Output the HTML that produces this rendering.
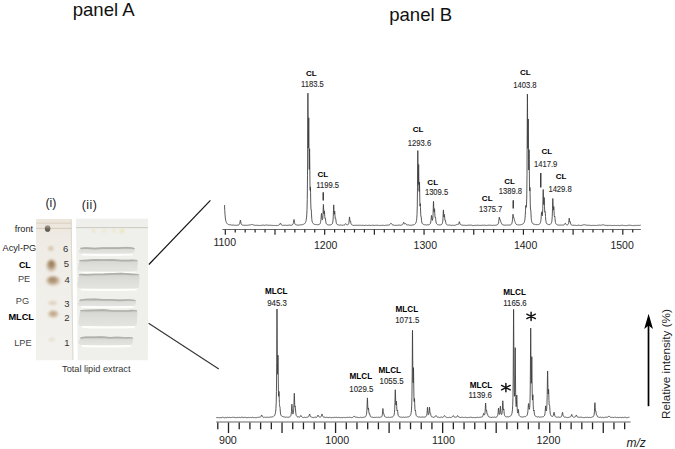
<!DOCTYPE html><html><head><meta charset="utf-8"><style>html,body{margin:0;padding:0;background:#fff;}svg{display:block;}</style></head><body><svg width="675" height="449" viewBox="0 0 675 449"><defs><filter id="b1" x="-50%" y="-50%" width="200%" height="200%"><feGaussianBlur stdDeviation="1.6"/></filter><filter id="b2" x="-50%" y="-50%" width="200%" height="200%"><feGaussianBlur stdDeviation="1.1"/></filter><filter id="b3" x="-20%" y="-50%" width="140%" height="200%"><feGaussianBlur stdDeviation="0.5"/></filter></defs><rect width="675" height="449" fill="#fff"/><g font-family="Liberation Sans, sans-serif" fill="#111"><text x="103.7" y="15.7" font-size="18.6" text-anchor="middle">panel A</text><text x="420.7" y="20.7" font-size="18.6" text-anchor="middle">panel B</text></g><defs><linearGradient id="p1" x1="0" y1="0" x2="0" y2="1"><stop offset="0" stop-color="#ebe5da"/><stop offset="0.12" stop-color="#efebe4"/><stop offset="0.5" stop-color="#f1efea"/><stop offset="1" stop-color="#f2f1ed"/></linearGradient><radialGradient id="s5" cx="0.5" cy="0.5" r="0.5" fx="0.5" fy="0.28"><stop offset="0" stop-color="#947657"/><stop offset="0.5" stop-color="#ae9373"/><stop offset="1" stop-color="#dccfbd" stop-opacity="0.35"/></radialGradient><radialGradient id="s4" cx="0.5" cy="0.5" r="0.5" fx="0.45" fy="0.35"><stop offset="0" stop-color="#a08465"/><stop offset="0.55" stop-color="#bba284"/><stop offset="1" stop-color="#ddd1c0" stop-opacity="0.35"/></radialGradient><radialGradient id="s2" cx="0.5" cy="0.5" r="0.5" fx="0.5" fy="0.35"><stop offset="0" stop-color="#bba385"/><stop offset="0.6" stop-color="#cdb99e"/><stop offset="1" stop-color="#e4dacb" stop-opacity="0.3"/></radialGradient><linearGradient id="bd" x1="0" y1="0" x2="0" y2="1"><stop offset="0" stop-color="#cbcbc6"/><stop offset="0.25" stop-color="#d8d8d4"/><stop offset="0.6" stop-color="#dfdfdb"/><stop offset="1" stop-color="#e3e3df"/></linearGradient></defs><polygon points="36.1,219 71.6,219 73.4,360.3 36,360.3" fill="url(#p1)"/><rect x="36.3" y="222.4" width="35.2" height="1.6" fill="#e2d8c9" filter="url(#b3)"/><line x1="71.2" y1="219.5" x2="72.9" y2="360" stroke="#dcd6cc" stroke-width="1"/><line x1="36.1" y1="228.4" x2="71.7" y2="228.4" stroke="#cfc5b7" stroke-width="0.9"/><g filter="url(#b2)"><ellipse cx="50.8" cy="248.4" rx="2.8" ry="2.3" fill="#d9cab3"/><ellipse cx="51.4" cy="265.8" rx="5.8" ry="7" fill="url(#s5)"/><ellipse cx="53.1" cy="280.8" rx="7.8" ry="5.6" fill="url(#s4)"/><ellipse cx="52.6" cy="303" rx="4.2" ry="2.2" fill="#e2d6c4"/><ellipse cx="53.2" cy="314.2" rx="6" ry="4.4" fill="url(#s2)"/><ellipse cx="51.7" cy="339.6" rx="3.2" ry="2" fill="#e9e2d6"/></g><defs><linearGradient id="fs" x1="0" y1="0" x2="0" y2="1"><stop offset="0" stop-color="#c2b8a8"/><stop offset="0.45" stop-color="#7a7164"/><stop offset="1" stop-color="#554e44"/></linearGradient></defs><ellipse cx="47.6" cy="228.4" rx="2.8" ry="3.4" fill="url(#fs)" filter="url(#b3)"/><polygon points="75.9,218.8 148,218.8 147.9,360.2 77.8,360.2" fill="#efefeb"/><line x1="76" y1="227.6" x2="148" y2="227.6" stroke="#c6c6c0" stroke-width="0.9"/><g filter="url(#b2)" fill="#e9e0a8" opacity="0.8"><circle cx="93.5" cy="230.8" r="1.5"/><circle cx="104" cy="230.8" r="1.4"/><circle cx="114" cy="230.8" r="1.4"/><circle cx="122" cy="231" r="2.1"/></g><path d="M81.5,253.29999999999998 Q106.75,254.79999999999998 133,253.29999999999998 L132,255.4 Q106.75,256.6 82.5,255.4 Z" fill="#fdfdfb" filter="url(#b3)"/><path d="M80.0,250.2 Q80.0,247.2 86.57,247.27 L94.64,247.71 L102.71,247.16 L110.79,247.21 L118.86,247.30 L126.93,246.82 Q135,247.2 135,250.2 L134.5,250.6 Q134.5,253.6 131.5,253.6 L81.5,253.6 Q78.5,253.6 78.5,250.6 Z" fill="url(#bd)" filter="url(#b3)"/><path d="M80.5,248.79999999999998 Q81.0,248.0 86.57,248.17 L94.64,248.61 L102.71,248.06 L110.79,248.11 L118.86,248.20 L126.93,247.72 Q134,248.0 134.2,249.0" stroke="#b1b1ac" stroke-width="1.7" fill="none" filter="url(#b3)"/><path d="M80.6,271.09999999999997 Q107.75,272.59999999999997 135.9,271.09999999999997 L134.9,273.2 Q107.75,274.4 81.6,273.2 Z" fill="#fdfdfb" filter="url(#b3)"/><path d="M79.1,262.4 Q79.1,259.4 86.21,259.75 L94.83,258.91 L103.44,259.16 L112.06,258.91 L120.67,259.77 L129.29,259.63 Q137.9,259.4 137.9,262.4 L137.4,268.4 Q137.4,271.4 134.4,271.4 L80.6,271.4 Q77.6,271.4 77.6,268.4 Z" fill="url(#bd)" filter="url(#b3)"/><path d="M79.6,261.0 Q80.1,260.2 86.21,260.65 L94.83,259.81 L103.44,260.06 L112.06,259.81 L120.67,260.67 L129.29,260.53 Q136.9,260.2 137.1,261.2" stroke="#b1b1ac" stroke-width="1.7" fill="none" filter="url(#b3)"/><path d="M80.2,288.3 Q108.4,289.8 137.6,288.3 L136.6,290.40000000000003 Q108.4,291.6 81.2,290.40000000000003 Z" fill="#fdfdfb" filter="url(#b3)"/><path d="M78.7,276.4 Q78.7,273.4 86.11,273.96 L95.03,273.58 L103.94,273.54 L112.86,272.99 L121.77,272.82 L130.69,273.43 Q139.6,273.4 139.6,276.4 L139.1,285.6 Q139.1,288.6 136.1,288.6 L80.2,288.6 Q77.2,288.6 77.2,285.6 Z" fill="url(#bd)" filter="url(#b3)"/><path d="M79.2,275.0 Q79.7,274.2 86.11,274.86 L95.03,274.48 L103.94,274.44 L112.86,273.89 L121.77,273.72 L130.69,274.33 Q138.6,274.2 138.79999999999998,275.2" stroke="#b1b1ac" stroke-width="1.7" fill="none" filter="url(#b3)"/><path d="M80.6,305.59999999999997 Q106.89999999999999,307.09999999999997 134.2,305.59999999999997 L133.2,307.7 Q106.89999999999999,308.9 81.6,307.7 Z" fill="#fdfdfb" filter="url(#b3)"/><path d="M79.1,302.1 Q79.1,299.1 85.97,298.79 L94.34,298.54 L102.71,299.06 L111.09,299.03 L119.46,299.51 L127.83,299.12 Q136.2,299.1 136.2,302.1 L135.7,302.9 Q135.7,305.9 132.7,305.9 L80.6,305.9 Q77.6,305.9 77.6,302.9 Z" fill="url(#bd)" filter="url(#b3)"/><path d="M79.6,300.70000000000005 Q80.1,299.90000000000003 85.97,299.69 L94.34,299.44 L102.71,299.96 L111.09,299.93 L119.46,300.41 L127.83,300.02 Q135.2,299.90000000000003 135.39999999999998,300.90000000000003" stroke="#b1b1ac" stroke-width="1.7" fill="none" filter="url(#b3)"/><path d="M81.5,325.8 Q107.95,327.3 135.4,325.8 L134.4,327.90000000000003 Q107.95,329.1 82.5,327.90000000000003 Z" fill="#fdfdfb" filter="url(#b3)"/><path d="M80.0,312.5 Q80.0,309.5 86.91,309.69 L95.33,309.45 L103.74,309.23 L112.16,310.10 L120.57,310.09 L128.99,309.91 Q137.4,309.5 137.4,312.5 L136.9,323.1 Q136.9,326.1 133.9,326.1 L81.5,326.1 Q78.5,326.1 78.5,323.1 Z" fill="url(#bd)" filter="url(#b3)"/><path d="M80.5,311.1 Q81.0,310.3 86.91,310.59 L95.33,310.35 L103.74,310.13 L112.16,311.00 L120.57,310.99 L128.99,310.81 Q136.4,310.3 136.6,311.3" stroke="#b1b1ac" stroke-width="1.7" fill="none" filter="url(#b3)"/><path d="M81.3,344.8 Q105.80000000000001,346.3 131.3,344.8 L130.3,346.90000000000003 Q105.80000000000001,348.1 82.3,346.90000000000003 Z" fill="#fdfdfb" filter="url(#b3)"/><path d="M79.8,339.7 Q79.8,336.7 86.16,336.38 L94.01,336.45 L101.87,336.18 L109.73,337.02 L117.59,336.58 L125.44,337.12 Q133.3,336.7 133.3,339.7 L132.8,342.1 Q132.8,345.1 129.8,345.1 L81.3,345.1 Q78.3,345.1 78.3,342.1 Z" fill="url(#bd)" filter="url(#b3)"/><path d="M80.3,338.3 Q80.8,337.5 86.16,337.28 L94.01,337.35 L101.87,337.08 L109.73,337.92 L117.59,337.48 L125.44,338.02 Q132.3,337.5 132.5,338.5" stroke="#b1b1ac" stroke-width="1.7" fill="none" filter="url(#b3)"/><g font-family="Liberation Sans, sans-serif" fill="#222" font-size="9.2" text-anchor="middle"><text x="51.0" y="207.4" font-size="12.4" fill="#222">(i)</text><text x="89.6" y="209.0" font-size="12.4" letter-spacing="0.5" fill="#222">(ii)</text><text x="23.9" y="231.8">front</text><text x="19.4" y="251.4">Acyl-PG</text><text x="24.8" y="267.9" font-weight="bold" font-size="8.9" fill="#000">CL</text><text x="24.05" y="281.7" fill="#444">PE</text><text x="22.45" y="304.3" fill="#444">PG</text><text transform="translate(21.2,319.8) scale(0.95,1)" font-weight="bold" font-size="9.7" fill="#000">MLCL</text><text x="22.9" y="346.2" fill="#444">LPE</text><text x="65.6" y="251.7" font-size="9.5" fill="#333">6</text><text x="66.3" y="266.8" font-size="9.5" fill="#333">5</text><text x="67.2" y="282.8" font-size="9.5" fill="#333">4</text><text x="67" y="306.7" font-size="9.5" fill="#333">3</text><text x="67" y="320.5" font-size="9.5" fill="#333">2</text><text x="67" y="346.1" font-size="9.5" fill="#333">1</text><text x="96.3" y="372" font-size="9.2" fill="#333">Total lipid extract</text></g><line x1="148.9" y1="264.5" x2="210.4" y2="200.3" stroke="#111" stroke-width="1.2"/><line x1="148.6" y1="323.3" x2="218.8" y2="369" stroke="#333" stroke-width="1.1"/><path d="M224.500,205.11 L224.750,210.38 L225.000,214.37 L225.250,217.18 L225.500,219.14 L225.750,220.51 L226.000,221.50 L226.250,222.22 L226.500,222.75 L226.750,223.16 L227.000,223.49 L227.250,223.75 L227.500,224.00 L227.750,224.18 L228.000,224.32 L228.250,224.44 L228.500,224.55 L228.750,224.64 L229.000,224.71 L229.250,224.78 L229.500,224.66 L229.750,224.70 L230.000,224.74 L230.250,224.77 L230.500,224.78 L230.750,224.81 L231.000,224.83 L231.250,224.85 L231.500,225.18 L231.750,225.20 L232.000,225.22 L232.250,225.23 L232.500,225.02 L232.750,225.03 L233.000,225.04 L233.250,225.05 L233.500,225.05 L233.750,225.06 L234.000,225.07 L234.250,225.07 L234.500,225.39 L234.750,225.39 L235.000,225.40 L235.250,225.40 L235.500,225.18 L235.750,225.18 L236.000,225.18 L236.250,225.18 L236.500,225.32 L236.750,225.31 L237.000,225.30 L237.250,225.28 L237.500,225.12 L237.750,225.10 L238.000,225.06 L238.250,225.01 L238.500,225.00 L238.750,224.90 L239.000,224.75 L239.250,224.51 L239.500,224.00 L239.750,223.31 L240.000,222.09 L240.250,220.50 L240.280,220.35 L240.400,220.07 L240.500,220.31 L240.520,220.40 L240.750,221.83 L241.000,223.20 L241.250,224.00 L241.500,224.51 L241.750,224.79 L242.000,224.97 L242.250,225.09 L242.500,225.04 L242.750,225.10 L243.000,225.14 L243.250,225.17 L243.500,225.28 L243.750,225.30 L244.000,225.31 L244.250,225.33 L244.500,225.31 L244.750,225.31 L245.000,225.32 L245.250,225.32 L245.500,225.06 L245.750,225.06 L246.000,225.06 L246.250,225.06 L246.500,225.36 L246.750,225.36 L247.000,225.36 L247.250,225.35 L247.500,225.27 L247.750,225.26 L248.000,225.25 L248.250,225.24 L248.500,225.11 L248.750,225.09 L249.000,225.07 L249.250,225.04 L249.500,224.91 L249.750,224.88 L250.000,224.83 L250.250,224.78 L250.500,224.99 L250.750,224.90 L251.000,224.80 L251.250,224.69 L251.500,224.49 L251.750,224.42 L251.880,224.40 L252.000,224.39 L252.120,224.40 L252.250,224.42 L252.500,224.55 L252.750,224.65 L253.000,224.76 L253.250,224.86 L253.500,225.00 L253.750,225.08 L254.000,225.15 L254.250,225.20 L254.500,225.19 L254.750,225.22 L255.000,225.25 L255.250,225.28 L255.500,225.38 L255.750,225.40 L256.000,225.42 L256.250,225.43 L256.500,225.21 L256.750,225.22 L257.000,225.23 L257.250,225.24 L257.500,225.43 L257.750,225.43 L258.000,225.44 L258.250,225.44 L258.500,225.28 L258.750,225.28 L259.000,225.29 L259.250,225.29 L259.500,225.52 L259.750,225.52 L260.000,225.52 L260.250,225.52 L260.500,225.50 L260.750,225.50 L261.000,225.50 L261.250,225.50 L261.500,225.13 L261.750,225.13 L262.000,225.13 L262.250,225.13 L262.500,225.14 L262.750,225.14 L263.000,225.13 L263.250,225.13 L263.500,225.16 L263.750,225.15 L264.000,225.13 L264.250,225.12 L264.500,225.41 L264.750,225.36 L265.000,225.31 L265.250,225.24 L265.500,224.97 L265.750,224.90 L265.880,224.88 L266.000,224.88 L266.120,224.88 L266.250,224.90 L266.500,225.03 L266.750,225.11 L267.000,225.18 L267.250,225.23 L267.500,225.13 L267.750,225.15 L268.000,225.17 L268.250,225.19 L268.500,225.29 L268.750,225.30 L269.000,225.31 L269.250,225.31 L269.500,225.26 L269.750,225.27 L270.000,225.27 L270.250,225.27 L270.500,225.26 L270.750,225.26 L271.000,225.26 L271.250,225.26 L271.500,225.37 L271.750,225.37 L272.000,225.37 L272.250,225.37 L272.500,225.37 L272.750,225.37 L273.000,225.37 L273.250,225.37 L273.500,225.52 L273.750,225.52 L274.000,225.52 L274.250,225.51 L274.500,225.41 L274.750,225.41 L275.000,225.40 L275.250,225.40 L275.500,225.51 L275.750,225.51 L276.000,225.50 L276.250,225.50 L276.500,225.46 L276.750,225.45 L277.000,225.44 L277.250,225.42 L277.500,225.47 L277.750,225.45 L278.000,225.42 L278.250,225.38 L278.500,225.21 L278.750,225.15 L279.000,225.06 L279.250,224.92 L279.500,224.56 L279.750,224.23 L280.000,223.72 L280.250,223.18 L280.280,223.13 L280.400,223.05 L280.500,223.21 L280.520,223.24 L280.750,223.73 L281.000,224.30 L281.250,224.69 L281.500,224.97 L281.750,225.13 L282.000,225.23 L282.250,225.30 L282.500,225.32 L282.750,225.36 L283.000,225.38 L283.250,225.40 L283.500,225.27 L283.750,225.28 L284.000,225.29 L284.250,225.30 L284.500,225.37 L284.750,225.37 L285.000,225.37 L285.250,225.37 L285.500,225.15 L285.750,225.15 L286.000,225.15 L286.250,225.15 L286.500,225.43 L286.750,225.42 L287.000,225.42 L287.250,225.42 L287.500,225.30 L287.750,225.30 L288.000,225.30 L288.250,225.29 L288.500,225.16 L288.750,225.15 L289.000,225.15 L289.250,225.14 L289.500,225.04 L289.750,225.03 L290.000,225.02 L290.250,225.01 L290.500,225.32 L290.750,225.29 L291.000,225.27 L291.250,225.23 L291.500,225.24 L291.750,225.18 L292.000,225.10 L292.250,224.99 L292.500,224.56 L292.750,224.35 L293.000,224.00 L293.250,223.39 L293.500,222.37 L293.750,220.59 L293.880,219.74 L294.000,219.42 L294.120,219.73 L294.250,220.59 L294.500,222.30 L294.750,223.42 L295.000,224.04 L295.250,224.39 L295.500,224.53 L295.750,224.66 L296.000,224.75 L296.250,224.80 L296.500,224.89 L296.750,224.92 L297.000,224.94 L297.250,224.95 L297.500,225.14 L297.750,225.14 L298.000,225.14 L298.250,225.14 L298.500,225.18 L298.750,225.17 L299.000,225.16 L299.250,225.15 L299.500,224.84 L299.750,224.82 L300.000,224.81 L300.250,224.79 L300.500,224.97 L300.750,224.94 L301.000,224.91 L301.250,224.88 L301.500,224.67 L301.750,224.63 L302.000,224.59 L302.250,224.55 L302.500,224.68 L302.750,224.62 L303.000,224.54 L303.250,224.45 L303.500,224.26 L303.750,224.15 L304.000,224.02 L304.250,223.86 L304.500,223.77 L304.750,223.53 L305.000,223.23 L305.250,222.85 L305.500,222.38 L305.750,221.75 L305.880,221.33 L306.000,220.88 L306.120,220.35 L306.250,219.66 L306.500,217.81 L306.750,214.90 L307.000,209.81 L307.250,199.64 L307.500,175.78 L307.750,120.00 L307.780,112.06 L307.900,93.17 L308.000,102.59 L308.020,106.53 L308.250,148.05 L308.500,145.27 L308.630,127.20 L308.750,117.79 L308.870,130.40 L309.000,152.61 L309.250,169.52 L309.480,154.23 L309.500,152.52 L309.600,148.75 L309.720,158.60 L309.750,162.55 L310.000,187.97 L310.250,190.53 L310.330,188.25 L310.450,186.99 L310.500,188.46 L310.570,192.24 L310.750,203.10 L311.000,209.77 L311.180,209.84 L311.250,209.75 L311.300,210.04 L311.420,212.21 L311.500,214.16 L311.750,218.62 L312.000,220.71 L312.250,221.81 L312.500,222.52 L312.750,222.98 L313.000,223.32 L313.250,223.58 L313.500,223.82 L313.750,223.98 L314.000,224.11 L314.250,224.22 L314.500,224.36 L314.750,224.44 L315.000,224.51 L315.250,224.56 L315.500,224.48 L315.750,224.52 L316.000,224.55 L316.250,224.57 L316.500,224.56 L316.750,224.57 L317.000,224.58 L317.250,224.58 L317.500,224.82 L317.750,224.80 L318.000,224.78 L318.250,224.75 L318.500,224.55 L318.750,224.50 L319.000,224.42 L319.250,224.32 L319.500,224.33 L319.750,224.12 L320.000,223.81 L320.250,223.34 L320.500,222.60 L320.750,221.34 L321.000,219.15 L321.250,215.76 L321.380,214.10 L321.500,213.39 L321.620,213.87 L321.750,215.30 L322.000,218.16 L322.250,219.62 L322.500,219.72 L322.750,218.33 L323.000,214.45 L323.250,207.11 L323.280,206.26 L323.400,204.40 L323.500,205.37 L323.520,205.79 L323.750,211.60 L324.000,213.90 L324.250,211.70 L324.280,211.37 L324.400,210.85 L324.500,211.85 L324.520,212.17 L324.750,216.41 L325.000,218.64 L325.250,218.43 L325.280,218.35 L325.400,218.37 L325.500,218.95 L325.520,219.12 L325.750,221.28 L326.000,222.79 L326.250,223.57 L326.500,224.00 L326.750,224.27 L327.000,224.45 L327.250,224.58 L327.500,224.69 L327.750,224.76 L328.000,224.81 L328.250,224.85 L328.500,224.98 L328.750,225.00 L329.000,225.02 L329.250,225.02 L329.500,224.88 L329.750,224.87 L330.000,224.85 L330.250,224.83 L330.500,224.77 L330.750,224.73 L331.000,224.66 L331.250,224.57 L331.500,224.53 L331.750,224.36 L332.000,224.11 L332.250,223.75 L332.500,223.10 L332.750,222.14 L333.000,220.33 L333.250,216.59 L333.500,209.39 L333.580,206.87 L333.700,204.89 L333.750,205.07 L333.820,206.23 L334.000,210.91 L334.250,214.20 L334.500,212.58 L334.580,211.61 L334.700,211.06 L334.750,211.40 L334.820,212.37 L335.000,215.82 L335.250,218.66 L335.500,218.74 L335.580,218.51 L335.700,218.52 L335.750,218.75 L335.820,219.27 L336.000,221.02 L336.250,222.73 L336.500,223.62 L336.750,224.10 L337.000,224.40 L337.250,224.59 L337.500,224.57 L337.750,224.66 L338.000,224.72 L338.250,224.78 L338.500,224.96 L338.750,225.00 L339.000,225.03 L339.250,225.05 L339.500,225.14 L339.750,225.15 L340.000,225.17 L340.250,225.18 L340.500,224.97 L340.750,224.98 L341.000,224.98 L341.250,224.99 L341.500,225.23 L341.750,225.24 L342.000,225.24 L342.250,225.24 L342.500,225.24 L342.750,225.23 L343.000,225.22 L343.250,225.21 L343.500,224.96 L343.750,224.94 L344.000,224.90 L344.250,224.85 L344.500,224.96 L344.750,224.82 L345.000,224.59 L345.250,224.23 L345.500,223.76 L345.580,223.66 L345.700,223.59 L345.750,223.60 L345.820,223.65 L346.000,223.90 L346.250,224.30 L346.500,224.64 L346.750,224.80 L347.000,224.88 L347.250,224.91 L347.500,224.79 L347.750,224.74 L348.000,224.63 L348.250,224.45 L348.500,224.19 L348.750,223.53 L349.000,222.19 L349.250,219.46 L349.380,217.71 L349.500,216.91 L349.620,217.54 L349.750,219.09 L350.000,221.24 L350.250,221.47 L350.380,221.17 L350.500,221.07 L350.620,221.54 L350.750,222.35 L351.000,223.58 L351.250,224.20 L351.500,224.52 L351.750,224.70 L352.000,224.81 L352.250,224.88 L352.500,225.17 L352.750,225.21 L353.000,225.25 L353.250,225.27 L353.500,225.42 L353.750,225.44 L354.000,225.45 L354.250,225.47 L354.500,225.16 L354.750,225.17 L355.000,225.18 L355.250,225.18 L355.500,225.28 L355.750,225.29 L356.000,225.29 L356.250,225.29 L356.500,225.36 L356.750,225.36 L357.000,225.37 L357.250,225.37 L357.500,225.25 L357.750,225.25 L358.000,225.25 L358.250,225.25 L358.500,225.27 L358.750,225.27 L359.000,225.28 L359.250,225.28 L359.500,225.25 L359.750,225.26 L360.000,225.26 L360.250,225.26 L360.500,225.29 L360.750,225.29 L361.000,225.29 L361.250,225.29 L361.500,225.40 L361.750,225.40 L362.000,225.40 L362.250,225.40 L362.500,225.26 L362.750,225.26 L363.000,225.26 L363.250,225.26 L363.500,225.30 L363.750,225.30 L364.000,225.30 L364.250,225.30 L364.500,225.49 L364.750,225.49 L365.000,225.49 L365.250,225.49 L365.500,225.13 L365.750,225.13 L366.000,225.13 L366.250,225.13 L366.500,225.39 L366.750,225.39 L367.000,225.39 L367.250,225.39 L367.500,225.47 L367.750,225.47 L368.000,225.47 L368.250,225.47 L368.500,225.27 L368.750,225.27 L369.000,225.27 L369.250,225.27 L369.500,225.23 L369.750,225.23 L370.000,225.23 L370.250,225.23 L370.500,225.51 L370.750,225.51 L371.000,225.51 L371.250,225.51 L371.500,225.24 L371.750,225.24 L372.000,225.24 L372.250,225.24 L372.500,225.21 L372.750,225.21 L373.000,225.21 L373.250,225.21 L373.500,225.33 L373.750,225.33 L374.000,225.33 L374.250,225.33 L374.500,225.46 L374.750,225.46 L375.000,225.46 L375.250,225.46 L375.500,225.17 L375.750,225.17 L376.000,225.17 L376.250,225.17 L376.500,225.28 L376.750,225.27 L377.000,225.27 L377.250,225.27 L377.500,225.28 L377.750,225.28 L378.000,225.28 L378.250,225.28 L378.500,225.52 L378.750,225.52 L379.000,225.52 L379.250,225.52 L379.500,225.33 L379.750,225.33 L380.000,225.33 L380.250,225.32 L380.500,225.52 L380.750,225.52 L381.000,225.52 L381.250,225.52 L381.500,225.19 L381.750,225.19 L382.000,225.19 L382.250,225.19 L382.500,225.27 L382.750,225.27 L383.000,225.27 L383.250,225.26 L383.500,225.41 L383.750,225.41 L384.000,225.41 L384.250,225.40 L384.500,225.51 L384.750,225.51 L385.000,225.50 L385.250,225.50 L385.500,225.29 L385.750,225.29 L386.000,225.28 L386.250,225.28 L386.500,225.17 L386.750,225.16 L387.000,225.15 L387.250,225.14 L387.500,225.08 L387.750,225.07 L388.000,225.05 L388.250,225.03 L388.500,225.16 L388.750,225.12 L389.000,225.06 L389.250,224.98 L389.500,224.76 L389.750,224.61 L390.000,224.40 L390.250,224.09 L390.500,223.79 L390.750,223.35 L390.880,223.20 L391.000,223.15 L391.120,223.20 L391.250,223.35 L391.500,223.79 L391.750,224.23 L392.000,224.56 L392.250,224.79 L392.500,224.75 L392.750,224.85 L393.000,224.92 L393.250,224.97 L393.500,225.05 L393.750,225.08 L394.000,225.10 L394.250,225.12 L394.500,225.36 L394.750,225.37 L395.000,225.38 L395.250,225.39 L395.500,225.32 L395.750,225.33 L396.000,225.33 L396.250,225.34 L396.500,225.41 L396.750,225.41 L397.000,225.41 L397.250,225.41 L397.500,225.21 L397.750,225.21 L398.000,225.20 L398.250,225.20 L398.500,225.10 L398.750,225.10 L399.000,225.10 L399.250,225.09 L399.500,225.15 L399.750,225.15 L400.000,225.14 L400.250,225.12 L400.500,225.32 L400.750,225.30 L401.000,225.27 L401.250,225.23 L401.500,224.99 L401.750,224.94 L402.000,224.87 L402.250,224.76 L402.500,224.62 L402.750,224.36 L403.000,223.94 L403.250,223.29 L403.500,222.51 L403.580,222.32 L403.700,222.19 L403.750,222.20 L403.820,222.29 L404.000,222.74 L404.250,223.45 L404.500,223.92 L404.750,224.13 L405.000,224.14 L405.250,223.96 L405.500,223.68 L405.580,223.61 L405.700,223.58 L405.750,223.60 L405.820,223.66 L406.000,223.92 L406.250,224.31 L406.500,224.74 L406.750,224.93 L407.000,225.05 L407.250,225.13 L407.500,224.90 L407.750,224.93 L408.000,224.95 L408.250,224.97 L408.500,224.92 L408.750,224.92 L409.000,224.92 L409.250,224.92 L409.500,225.29 L409.750,225.28 L410.000,225.27 L410.250,225.27 L410.500,225.23 L410.750,225.22 L411.000,225.20 L411.250,225.18 L411.500,225.20 L411.750,225.18 L412.000,225.15 L412.250,225.12 L412.500,224.89 L412.750,224.86 L413.000,224.81 L413.250,224.76 L413.500,224.86 L413.750,224.79 L414.000,224.70 L414.250,224.60 L414.500,224.47 L414.750,224.31 L415.000,224.12 L415.250,223.89 L415.500,223.46 L415.750,223.06 L416.000,222.51 L416.250,221.72 L416.500,220.54 L416.750,218.51 L417.000,214.77 L417.250,206.83 L417.500,187.26 L417.680,161.29 L417.750,153.03 L417.800,150.60 L417.920,158.16 L418.000,168.04 L418.250,184.57 L418.500,172.34 L418.530,169.85 L418.650,164.52 L418.750,169.80 L418.770,171.65 L419.000,190.79 L419.250,191.52 L419.380,185.13 L419.500,182.03 L419.620,187.60 L419.750,197.10 L420.000,206.16 L420.230,204.36 L420.250,204.06 L420.350,203.65 L420.470,206.62 L420.500,207.71 L420.750,214.93 L421.000,216.70 L421.080,216.56 L421.200,216.66 L421.250,217.05 L421.320,217.89 L421.500,220.24 L421.750,222.11 L422.000,223.00 L422.250,223.51 L422.500,223.81 L422.750,224.04 L423.000,224.21 L423.250,224.34 L423.500,224.39 L423.750,224.47 L424.000,224.54 L424.250,224.59 L424.500,224.79 L424.750,224.83 L425.000,224.86 L425.250,224.89 L425.500,224.81 L425.750,224.82 L426.000,224.83 L426.250,224.84 L426.500,225.02 L426.750,225.02 L427.000,225.02 L427.250,225.01 L427.500,224.74 L427.750,224.72 L428.000,224.70 L428.250,224.67 L428.500,224.90 L428.750,224.84 L429.000,224.76 L429.250,224.66 L429.500,224.47 L429.750,224.29 L430.000,224.03 L430.250,223.64 L430.500,223.05 L430.750,222.01 L431.000,220.19 L431.250,217.38 L431.380,216.00 L431.500,215.42 L431.620,215.79 L431.750,216.93 L432.000,219.21 L432.250,220.32 L432.500,220.28 L432.750,219.00 L433.000,215.62 L433.250,208.34 L433.380,203.61 L433.500,201.40 L433.620,202.99 L433.750,206.95 L434.000,212.00 L434.250,211.12 L434.380,209.33 L434.500,208.71 L434.620,210.22 L434.750,213.11 L435.000,217.07 L435.250,217.73 L435.380,217.33 L435.500,217.39 L435.620,218.26 L435.750,219.72 L436.000,221.95 L436.250,223.12 L436.500,223.65 L436.750,224.01 L437.000,224.24 L437.250,224.40 L437.500,224.55 L437.750,224.63 L438.000,224.69 L438.250,224.74 L438.500,224.90 L438.750,224.92 L439.000,224.94 L439.250,224.96 L439.500,224.91 L439.750,224.91 L440.000,224.90 L440.250,224.88 L440.500,224.81 L440.750,224.76 L441.000,224.70 L441.250,224.61 L441.500,224.61 L441.750,224.41 L442.000,224.11 L442.250,223.62 L442.500,222.74 L442.750,221.16 L443.000,217.88 L443.250,212.06 L443.280,211.40 L443.400,209.90 L443.500,210.59 L443.520,210.90 L443.750,215.26 L444.000,216.94 L444.250,215.21 L444.280,214.95 L444.400,214.54 L444.500,215.28 L444.520,215.52 L444.750,218.73 L445.000,220.40 L445.250,220.22 L445.280,220.16 L445.400,220.17 L445.500,220.66 L445.520,220.79 L445.750,222.44 L446.000,223.60 L446.250,224.20 L446.500,224.44 L446.750,224.65 L447.000,224.78 L447.250,224.87 L447.500,225.05 L447.750,225.11 L448.000,225.15 L448.250,225.19 L448.500,225.05 L448.750,225.08 L449.000,225.10 L449.250,225.11 L449.500,225.06 L449.750,225.07 L450.000,225.08 L450.250,225.09 L450.500,225.24 L450.750,225.24 L451.000,225.25 L451.250,225.25 L451.500,225.38 L451.750,225.38 L452.000,225.38 L452.250,225.38 L452.500,225.10 L452.750,225.10 L453.000,225.10 L453.250,225.09 L453.500,225.35 L453.750,225.34 L454.000,225.33 L454.250,225.31 L454.500,225.35 L454.750,225.32 L455.000,225.29 L455.250,225.24 L455.500,225.14 L455.750,225.06 L456.000,224.96 L456.250,224.83 L456.500,224.69 L456.750,224.55 L456.880,224.51 L457.000,224.48 L457.120,224.48 L457.250,224.49 L457.500,224.35 L457.750,224.41 L458.000,224.41 L458.250,224.35 L458.500,224.30 L458.750,223.86 L459.000,223.05 L459.250,221.99 L459.280,221.90 L459.400,221.71 L459.500,221.88 L459.520,221.94 L459.750,222.94 L460.000,223.89 L460.250,224.46 L460.500,224.55 L460.750,224.73 L461.000,224.83 L461.250,224.90 L461.500,225.04 L461.750,225.07 L462.000,225.10 L462.250,225.12 L462.500,225.14 L462.750,225.15 L463.000,225.16 L463.250,225.17 L463.500,225.30 L463.750,225.31 L464.000,225.31 L464.250,225.32 L464.500,225.27 L464.750,225.28 L465.000,225.28 L465.250,225.29 L465.500,225.31 L465.750,225.31 L466.000,225.32 L466.250,225.32 L466.500,225.46 L466.750,225.47 L467.000,225.47 L467.250,225.47 L467.500,225.10 L467.750,225.11 L468.000,225.11 L468.250,225.11 L468.500,225.13 L468.750,225.13 L469.000,225.13 L469.250,225.14 L469.500,225.17 L469.750,225.17 L470.000,225.17 L470.250,225.17 L470.500,225.17 L470.750,225.17 L471.000,225.17 L471.250,225.17 L471.500,225.15 L471.750,225.15 L472.000,225.15 L472.250,225.15 L472.500,225.58 L472.750,225.58 L473.000,225.58 L473.250,225.58 L473.500,225.52 L473.750,225.52 L474.000,225.52 L474.250,225.52 L474.500,225.16 L474.750,225.16 L475.000,225.16 L475.250,225.16 L475.500,225.36 L475.750,225.36 L476.000,225.36 L476.250,225.36 L476.500,225.27 L476.750,225.27 L477.000,225.27 L477.250,225.27 L477.500,225.27 L477.750,225.27 L478.000,225.27 L478.250,225.27 L478.500,225.28 L478.750,225.28 L479.000,225.28 L479.250,225.28 L479.500,225.42 L479.750,225.42 L480.000,225.42 L480.250,225.42 L480.500,225.39 L480.750,225.39 L481.000,225.39 L481.250,225.39 L481.500,225.29 L481.750,225.29 L482.000,225.29 L482.250,225.28 L482.500,225.20 L482.750,225.20 L483.000,225.20 L483.250,225.20 L483.500,225.27 L483.750,225.27 L484.000,225.27 L484.250,225.27 L484.500,225.17 L484.750,225.17 L485.000,225.17 L485.250,225.17 L485.500,225.37 L485.750,225.37 L486.000,225.37 L486.250,225.37 L486.500,225.44 L486.750,225.44 L487.000,225.44 L487.250,225.44 L487.500,225.28 L487.750,225.28 L488.000,225.28 L488.250,225.28 L488.500,225.13 L488.750,225.13 L489.000,225.13 L489.250,225.13 L489.500,225.18 L489.750,225.17 L490.000,225.17 L490.250,225.17 L490.500,225.26 L490.750,225.26 L491.000,225.25 L491.250,225.25 L491.500,225.35 L491.750,225.35 L492.000,225.35 L492.250,225.34 L492.500,225.42 L492.750,225.41 L493.000,225.41 L493.250,225.40 L493.500,225.21 L493.750,225.21 L494.000,225.20 L494.250,225.19 L494.500,225.36 L494.750,225.34 L495.000,225.33 L495.250,225.31 L495.500,225.21 L495.750,225.19 L496.000,225.16 L496.250,225.12 L496.500,225.01 L496.750,224.95 L497.000,224.88 L497.250,224.78 L497.500,224.63 L497.750,224.44 L498.000,224.15 L498.250,223.69 L498.500,222.94 L498.750,221.58 L499.000,219.34 L499.180,217.64 L499.250,217.23 L499.300,217.10 L499.420,217.33 L499.500,217.81 L499.750,219.44 L500.000,219.93 L500.180,219.79 L500.250,219.79 L500.300,219.86 L500.420,220.25 L500.500,220.61 L500.750,221.81 L501.000,222.38 L501.180,222.51 L501.250,222.58 L501.300,222.65 L501.420,222.90 L501.500,223.15 L501.750,223.84 L502.000,224.31 L502.250,224.60 L502.500,224.71 L502.750,224.83 L503.000,224.91 L503.250,224.97 L503.500,224.93 L503.750,224.96 L504.000,224.99 L504.250,225.01 L504.500,225.13 L504.750,225.15 L505.000,225.15 L505.250,225.16 L505.500,225.23 L505.750,225.23 L506.000,225.23 L506.250,225.23 L506.500,224.98 L506.750,224.98 L507.000,224.98 L507.250,224.97 L507.500,225.10 L507.750,225.09 L508.000,225.08 L508.250,225.07 L508.500,225.06 L508.750,225.04 L509.000,225.01 L509.250,224.99 L509.500,225.11 L509.750,225.07 L510.000,225.02 L510.250,224.95 L510.500,224.88 L510.750,224.76 L511.000,224.61 L511.250,224.41 L511.500,223.99 L511.750,223.57 L512.000,222.89 L512.250,221.73 L512.500,219.73 L512.750,216.54 L512.880,214.94 L513.000,214.22 L513.120,214.52 L513.250,215.63 L513.500,217.60 L513.750,217.94 L513.880,217.79 L514.000,217.88 L514.120,218.40 L514.250,219.27 L514.500,220.71 L514.750,221.30 L514.880,221.42 L515.000,221.60 L515.120,221.93 L515.250,222.40 L515.500,223.29 L515.750,223.85 L516.000,224.18 L516.250,224.39 L516.500,224.44 L516.750,224.53 L517.000,224.59 L517.250,224.63 L517.500,224.88 L517.750,224.90 L518.000,224.92 L518.250,224.92 L518.500,224.88 L518.750,224.88 L519.000,224.87 L519.250,224.86 L519.500,224.91 L519.750,224.89 L520.000,224.87 L520.250,224.84 L520.500,224.77 L520.750,224.73 L521.000,224.69 L521.250,224.63 L521.500,224.54 L521.750,224.47 L522.000,224.39 L522.250,224.29 L522.500,224.19 L522.750,224.05 L523.000,223.89 L523.250,223.69 L523.500,223.41 L523.750,223.10 L524.000,222.69 L524.250,222.15 L524.500,221.33 L524.750,220.19 L525.000,218.39 L525.250,215.38 L525.500,210.60 L525.680,206.84 L525.750,205.84 L525.800,205.40 L525.920,205.34 L526.000,205.84 L526.250,207.32 L526.500,205.30 L526.750,196.99 L527.000,174.50 L527.250,120.24 L527.280,112.49 L527.400,94.10 L527.500,103.49 L527.520,107.39 L527.750,148.44 L528.000,145.88 L528.130,128.20 L528.250,118.99 L528.370,131.44 L528.500,153.33 L528.750,170.04 L528.980,155.05 L529.000,153.37 L529.100,149.68 L529.220,159.39 L529.250,163.28 L529.500,188.31 L529.750,190.86 L529.830,188.63 L529.950,187.40 L530.000,188.84 L530.070,192.57 L530.250,203.25 L530.500,209.83 L530.680,209.91 L530.750,209.82 L530.800,210.10 L530.920,212.24 L531.000,214.18 L531.250,218.58 L531.500,220.65 L531.750,221.75 L532.000,222.42 L532.250,222.89 L532.500,223.35 L532.750,223.62 L533.000,223.83 L533.250,224.00 L533.500,223.99 L533.750,224.09 L534.000,224.18 L534.250,224.26 L534.500,224.28 L534.750,224.33 L535.000,224.38 L535.250,224.41 L535.500,224.66 L535.750,224.69 L536.000,224.71 L536.250,224.72 L536.500,224.53 L536.750,224.53 L537.000,224.53 L537.250,224.52 L537.500,224.70 L537.750,224.68 L538.000,224.65 L538.250,224.60 L538.500,224.50 L538.750,224.42 L539.000,224.33 L539.250,224.20 L539.500,224.07 L539.750,223.85 L540.000,223.53 L540.250,223.07 L540.500,222.39 L540.750,221.26 L541.000,219.33 L541.250,216.12 L541.480,212.68 L541.500,212.45 L541.600,211.80 L541.720,212.09 L541.750,212.31 L542.000,214.75 L542.250,215.73 L542.500,214.15 L542.750,208.64 L543.000,196.92 L543.080,192.76 L543.200,189.50 L543.250,189.82 L543.320,191.76 L543.500,199.52 L543.750,204.59 L544.000,200.73 L544.080,198.70 L544.200,197.50 L544.250,198.11 L544.320,199.97 L544.500,206.61 L544.750,212.05 L545.000,212.12 L545.080,211.64 L545.200,211.62 L545.250,212.06 L545.320,213.11 L545.500,216.58 L545.750,220.01 L546.000,221.77 L546.250,222.72 L546.500,223.33 L546.750,223.71 L547.000,223.97 L547.250,224.16 L547.500,224.15 L547.750,224.25 L548.000,224.32 L548.250,224.37 L548.500,224.58 L548.750,224.60 L549.000,224.60 L549.250,224.60 L549.500,224.62 L549.750,224.58 L550.000,224.51 L550.250,224.41 L550.500,224.08 L550.750,223.91 L551.000,223.65 L551.250,223.27 L551.500,222.71 L551.750,221.70 L552.000,219.88 L552.250,216.24 L552.500,208.69 L552.680,201.09 L552.750,199.08 L552.800,198.50 L552.920,200.25 L553.000,202.94 L553.250,209.84 L553.500,210.04 L553.680,207.29 L553.750,206.60 L553.800,206.58 L553.920,208.30 L554.000,210.30 L554.250,215.53 L554.500,216.90 L554.680,216.35 L554.750,216.24 L554.800,216.36 L554.920,217.34 L555.000,218.35 L555.250,221.14 L555.500,222.63 L555.750,223.41 L556.000,223.87 L556.250,224.15 L556.500,224.37 L556.750,224.51 L557.000,224.62 L557.250,224.70 L557.500,224.88 L557.750,224.94 L558.000,224.98 L558.250,225.02 L558.500,225.10 L558.750,225.13 L559.000,225.16 L559.250,225.18 L559.500,225.06 L559.750,225.07 L560.000,225.08 L560.250,225.09 L560.500,225.09 L560.750,225.09 L561.000,225.10 L561.250,225.10 L561.500,225.11 L561.750,225.11 L562.000,225.11 L562.250,225.10 L562.500,225.08 L562.750,225.06 L563.000,225.04 L563.250,225.02 L563.500,225.00 L563.750,224.94 L564.000,224.85 L564.250,224.71 L564.500,224.40 L564.750,224.04 L565.000,223.54 L565.180,223.21 L565.250,223.15 L565.300,223.13 L565.420,223.21 L565.500,223.40 L565.750,223.91 L566.000,224.33 L566.250,224.60 L566.500,224.89 L566.750,224.97 L567.000,225.01 L567.250,225.00 L567.500,224.77 L567.750,224.68 L568.000,224.50 L568.250,224.18 L568.500,223.61 L568.750,222.28 L569.000,219.69 L569.080,218.80 L569.200,218.11 L569.250,218.20 L569.320,218.65 L569.500,220.43 L569.750,221.91 L570.000,221.86 L570.080,221.70 L570.200,221.67 L570.250,221.79 L570.320,222.07 L570.500,223.11 L570.750,224.08 L571.000,224.57 L571.250,224.83 L571.500,225.01 L571.750,225.11 L572.000,225.18 L572.250,225.23 L572.500,225.24 L572.750,225.26 L573.000,225.29 L573.250,225.31 L573.500,225.25 L573.750,225.26 L574.000,225.27 L574.250,225.28 L574.500,225.27 L574.750,225.28 L575.000,225.28 L575.250,225.29 L575.500,225.37 L575.750,225.37 L576.000,225.37 L576.250,225.38 L576.500,225.49 L576.750,225.50 L577.000,225.50 L577.250,225.50 L577.500,225.16 L577.750,225.16 L578.000,225.16 L578.250,225.16 L578.500,225.13 L578.750,225.13 L579.000,225.13 L579.250,225.13 L579.500,225.43 L579.750,225.42 L580.000,225.42 L580.250,225.41 L580.500,225.48 L580.750,225.47 L581.000,225.46 L581.250,225.45 L581.500,225.26 L581.750,225.24 L582.000,225.21 L582.250,225.18 L582.500,225.10 L582.750,225.04 L583.000,224.96 L583.250,224.85 L583.500,224.82 L583.750,224.71 L583.880,224.67 L584.000,224.66 L584.120,224.67 L584.250,224.71 L584.500,224.66 L584.750,224.77 L585.000,224.87 L585.250,224.95 L585.500,225.04 L585.750,225.08 L586.000,225.12 L586.250,225.14 L586.500,225.13 L586.750,225.14 L587.000,225.16 L587.250,225.17 L587.500,225.35 L587.750,225.36 L588.000,225.36 L588.250,225.37 L588.500,225.25 L588.750,225.25 L589.000,225.25 L589.250,225.26 L589.500,225.22 L589.750,225.22 L590.000,225.22 L590.250,225.22 L590.500,225.44 L590.750,225.45 L591.000,225.45 L591.250,225.45 L591.500,225.58 L591.750,225.58 L592.000,225.58 L592.250,225.58 L592.500,225.26 L592.750,225.26 L593.000,225.26 L593.250,225.26 L593.500,225.46 L593.750,225.46 L594.000,225.46 L594.250,225.46 L594.500,225.32 L594.750,225.32 L595.000,225.32 L595.250,225.32 L595.500,225.53 L595.750,225.53 L596.000,225.53 L596.250,225.53 L596.500,225.40 L596.750,225.40 L597.000,225.40 L597.250,225.40 L597.500,225.25 L597.750,225.25 L598.000,225.24 L598.250,225.24 L598.500,225.22 L598.750,225.21 L599.000,225.21 L599.250,225.21 L599.500,225.11 L599.750,225.11 L600.000,225.10 L600.250,225.09 L600.500,225.29 L600.750,225.28 L601.000,225.26 L601.250,225.23 L601.500,225.15 L601.750,225.11 L602.000,225.05 L602.250,224.97 L602.500,224.81 L602.750,224.73 L602.880,224.71 L603.000,224.70 L603.120,224.71 L603.250,224.73 L603.500,224.87 L603.750,224.96 L604.000,225.04 L604.250,225.10 L604.500,225.13 L604.750,225.16 L605.000,225.19 L605.250,225.21 L605.500,225.43 L605.750,225.44 L606.000,225.45 L606.250,225.46 L606.500,225.17 L606.750,225.18 L607.000,225.18 L607.250,225.18 L607.500,225.59 L607.750,225.60 L608.000,225.60 L608.250,225.60 L608.500,225.36 L608.750,225.36 L609.000,225.36 L609.250,225.36 L609.500,225.42 L609.750,225.42 L610.000,225.42 L610.250,225.42 L610.500,225.36 L610.750,225.36 L611.000,225.36 L611.250,225.36 L611.500,225.54 L611.750,225.54 L612.000,225.54 L612.250,225.54 L612.500,225.54 L612.750,225.54 L613.000,225.54 L613.250,225.54 L613.500,225.41 L613.750,225.41 L614.000,225.41 L614.250,225.41 L614.500,225.37 L614.750,225.37 L615.000,225.37 L615.250,225.38 L615.500,225.49 L615.750,225.49 L616.000,225.49 L616.250,225.49 L616.500,225.56 L616.750,225.56 L617.000,225.56 L617.250,225.56 L617.500,225.34 L617.750,225.34 L618.000,225.34 L618.250,225.34 L618.500,225.50 L618.750,225.50 L619.000,225.50 L619.250,225.50 L619.500,225.61 L619.750,225.61 L620.000,225.61 L620.250,225.61 L620.500,225.37 L620.750,225.37 L621.000,225.37 L621.250,225.37 L621.500,225.25 L621.750,225.25 L622.000,225.25 L622.250,225.25 L622.500,225.26 L622.750,225.26 L623.000,225.26 L623.250,225.26 L623.500,225.50 L623.750,225.50 L624.000,225.50 L624.250,225.50 L624.500,225.48 L624.750,225.48 L625.000,225.48 L625.250,225.48 L625.500,225.62 L625.750,225.62 L626.000,225.62 L626.250,225.62 L626.500,225.57 L626.750,225.57 L627.000,225.57 L627.250,225.57 L627.500,225.26 L627.750,225.26 L628.000,225.26 L628.250,225.26 L628.500,225.24 L628.750,225.24 L629.000,225.24 L629.250,225.24 L629.500,225.27 L629.750,225.27 L630.000,225.27 L630.250,225.27 L630.500,225.24 L630.750,225.24 L631.000,225.24 L631.250,225.24 L631.500,225.49 L631.750,225.49 L632.000,225.49 L632.250,225.49 L632.500,225.57 L632.750,225.57 L633.000,225.57 L633.250,225.57 L633.500,225.59 L633.750,225.59 L634.000,225.59 L634.250,225.59 L634.500,225.27 L634.750,225.27 L635.000,225.27 L635.250,225.27 L635.500,225.57 L635.750,225.57 L636.000,225.57 L636.250,225.57 L636.500,225.30 L636.750,225.30 L637.000,225.30 L637.250,225.30 L637.500,225.35 L637.750,225.35 L638.000,225.35 L638.250,225.35 L638.500,225.51 L638.750,225.51 L639.000,225.51 L639.250,225.51 L639.500,225.19 L639.750,225.19 L640.000,225.19 L640.250,225.19 L640.500,225.19 L640.750,225.19" fill="none" stroke="#3a3a3a" stroke-width="0.85" stroke-linejoin="round"/><path d="M216.200,417.55 L216.450,417.55 L216.700,417.55 L216.950,417.55 L217.200,417.61 L217.450,417.61 L217.700,417.61 L217.950,417.61 L218.200,417.64 L218.450,417.64 L218.700,417.64 L218.950,417.64 L219.200,417.71 L219.450,417.71 L219.700,417.71 L219.950,417.71 L220.200,417.61 L220.450,417.61 L220.700,417.61 L220.950,417.61 L221.200,417.70 L221.450,417.70 L221.700,417.70 L221.950,417.70 L222.200,417.26 L222.450,417.26 L222.700,417.26 L222.950,417.26 L223.200,417.47 L223.450,417.47 L223.700,417.47 L223.950,417.47 L224.200,417.71 L224.450,417.71 L224.700,417.71 L224.950,417.71 L225.200,417.56 L225.450,417.56 L225.700,417.56 L225.950,417.56 L226.200,417.69 L226.450,417.69 L226.700,417.69 L226.950,417.69 L227.200,417.30 L227.450,417.30 L227.700,417.30 L227.950,417.30 L228.200,417.47 L228.450,417.47 L228.700,417.47 L228.950,417.47 L229.200,417.36 L229.450,417.36 L229.700,417.36 L229.950,417.36 L230.200,417.51 L230.450,417.51 L230.700,417.51 L230.950,417.51 L231.200,417.52 L231.450,417.52 L231.700,417.52 L231.950,417.52 L232.200,417.25 L232.450,417.25 L232.700,417.25 L232.950,417.25 L233.200,417.35 L233.450,417.35 L233.700,417.35 L233.950,417.35 L234.200,417.38 L234.450,417.38 L234.700,417.38 L234.950,417.38 L235.200,417.69 L235.450,417.69 L235.700,417.69 L235.950,417.69 L236.200,417.62 L236.450,417.62 L236.700,417.62 L236.950,417.62 L237.200,417.32 L237.450,417.32 L237.700,417.32 L237.950,417.32 L238.200,417.63 L238.450,417.63 L238.700,417.63 L238.950,417.63 L239.200,417.31 L239.450,417.31 L239.700,417.30 L239.950,417.30 L240.200,417.54 L240.450,417.54 L240.700,417.54 L240.950,417.54 L241.200,417.30 L241.450,417.30 L241.700,417.30 L241.950,417.30 L242.200,417.24 L242.450,417.24 L242.700,417.24 L242.950,417.24 L243.200,417.66 L243.450,417.66 L243.700,417.66 L243.950,417.66 L244.200,417.34 L244.450,417.34 L244.700,417.33 L244.950,417.33 L245.200,417.34 L245.450,417.34 L245.700,417.34 L245.950,417.34 L246.200,417.71 L246.450,417.71 L246.700,417.71 L246.950,417.71 L247.200,417.65 L247.450,417.65 L247.700,417.65 L247.950,417.65 L248.200,417.37 L248.450,417.37 L248.700,417.37 L248.950,417.37 L249.200,417.69 L249.450,417.69 L249.700,417.69 L249.950,417.69 L250.200,417.49 L250.450,417.48 L250.700,417.48 L250.950,417.48 L251.200,417.55 L251.450,417.55 L251.700,417.55 L251.950,417.55 L252.200,417.32 L252.450,417.32 L252.700,417.32 L252.950,417.32 L253.200,417.67 L253.450,417.67 L253.700,417.66 L253.950,417.66 L254.200,417.54 L254.450,417.54 L254.700,417.54 L254.950,417.54 L255.200,417.67 L255.450,417.66 L255.700,417.66 L255.950,417.66 L256.200,417.62 L256.450,417.62 L256.700,417.61 L256.950,417.61 L257.200,417.33 L257.450,417.32 L257.700,417.32 L257.950,417.31 L258.200,417.34 L258.450,417.33 L258.700,417.32 L258.950,417.30 L259.200,417.20 L259.450,417.18 L259.700,417.16 L259.950,417.12 L260.200,417.06 L260.450,416.97 L260.700,416.83 L260.950,416.59 L261.200,416.12 L261.450,415.41 L261.580,415.07 L261.700,414.94 L261.820,415.07 L261.950,415.41 L262.200,416.16 L262.450,416.62 L262.700,416.87 L262.950,417.01 L263.200,417.20 L263.450,417.26 L263.700,417.30 L263.950,417.33 L264.200,417.09 L264.450,417.10 L264.700,417.11 L264.950,417.11 L265.200,417.41 L265.450,417.41 L265.700,417.41 L265.950,417.41 L266.200,417.26 L266.450,417.26 L266.700,417.25 L266.950,417.25 L267.200,417.23 L267.450,417.22 L267.700,417.22 L267.950,417.21 L268.200,417.41 L268.450,417.40 L268.700,417.39 L268.950,417.37 L269.200,417.22 L269.450,417.21 L269.700,417.19 L269.950,417.17 L270.200,417.09 L270.450,417.07 L270.700,417.05 L270.950,417.02 L271.200,417.05 L271.450,417.01 L271.700,416.97 L271.950,416.92 L272.200,416.94 L272.450,416.87 L272.700,416.80 L272.950,416.71 L273.200,416.44 L273.450,416.32 L273.700,416.18 L273.950,416.00 L274.200,415.95 L274.450,415.65 L274.700,415.24 L274.950,414.71 L275.200,413.85 L275.450,412.78 L275.700,411.10 L275.950,408.27 L276.200,402.99 L276.450,391.47 L276.700,362.59 L276.880,324.16 L276.950,312.19 L277.000,309.00 L277.120,322.11 L277.200,338.65 L277.450,372.79 L277.700,374.24 L277.880,360.41 L277.950,355.88 L278.000,355.17 L278.120,363.48 L278.200,372.71 L278.450,392.39 L278.700,396.35 L278.880,392.89 L278.950,391.58 L279.000,391.40 L279.120,394.01 L279.200,396.89 L279.280,399.52 L279.400,402.51 L279.450,403.48 L279.520,404.62 L279.700,406.47 L279.880,406.75 L279.950,406.82 L280.000,407.08 L280.120,408.60 L280.200,409.89 L280.450,412.87 L280.700,414.30 L280.950,415.07 L281.200,415.59 L281.450,415.92 L281.700,416.16 L281.950,416.35 L282.200,416.35 L282.450,416.46 L282.700,416.54 L282.950,416.62 L283.200,416.69 L283.450,416.74 L283.700,416.78 L283.950,416.81 L284.200,416.89 L284.450,416.91 L284.700,416.94 L284.950,416.96 L285.200,417.25 L285.450,417.26 L285.700,417.28 L285.950,417.29 L286.200,417.02 L286.450,417.02 L286.700,417.02 L286.950,417.02 L287.200,417.23 L287.450,417.22 L287.700,417.21 L287.950,417.20 L288.200,417.24 L288.450,417.22 L288.700,417.19 L288.950,417.15 L289.200,417.10 L289.450,417.03 L289.700,416.95 L289.950,416.82 L290.200,416.50 L290.450,416.27 L290.700,415.91 L290.950,415.28 L291.200,414.11 L291.450,411.69 L291.700,407.00 L291.780,405.39 L291.900,404.19 L291.950,404.38 L292.020,405.27 L292.200,408.84 L292.450,412.29 L292.700,413.72 L292.950,414.08 L293.200,413.77 L293.450,412.60 L293.700,409.94 L293.950,404.09 L294.180,395.52 L294.200,394.90 L294.300,393.29 L294.420,395.14 L294.450,396.08 L294.700,404.08 L294.950,407.08 L295.180,406.40 L295.200,406.35 L295.300,406.42 L295.420,407.67 L295.450,408.14 L295.700,411.96 L295.950,414.16 L296.200,415.28 L296.450,415.91 L296.700,416.30 L296.950,416.55 L297.200,416.75 L297.450,416.88 L297.700,416.98 L297.950,417.05 L298.200,416.84 L298.450,416.87 L298.700,416.89 L298.950,416.90 L299.200,417.21 L299.450,417.18 L299.700,417.12 L299.950,417.01 L300.200,416.56 L300.450,416.20 L300.700,415.67 L300.780,415.52 L300.900,415.43 L300.950,415.45 L301.020,415.53 L301.200,415.96 L301.450,416.47 L301.700,416.78 L301.950,416.96 L302.200,417.16 L302.450,417.23 L302.700,417.28 L302.950,417.31 L303.200,417.46 L303.450,417.48 L303.700,417.49 L303.950,417.51 L304.200,417.27 L304.450,417.27 L304.700,417.28 L304.950,417.28 L305.200,417.53 L305.450,417.53 L305.700,417.53 L305.950,417.52 L306.200,417.35 L306.450,417.35 L306.700,417.33 L306.950,417.32 L307.200,417.20 L307.450,417.17 L307.700,417.13 L307.950,417.07 L308.200,416.98 L308.450,416.83 L308.700,416.57 L308.950,416.11 L309.200,415.29 L309.450,414.24 L309.480,414.15 L309.600,413.96 L309.700,414.10 L309.720,414.15 L309.950,415.08 L310.200,415.94 L310.450,416.44 L310.700,416.72 L310.950,416.88 L311.200,417.00 L311.450,417.06 L311.700,417.11 L311.950,417.14 L312.200,417.39 L312.450,417.41 L312.700,417.42 L312.950,417.43 L313.200,417.58 L313.450,417.58 L313.700,417.59 L313.950,417.59 L314.200,417.22 L314.450,417.22 L314.700,417.21 L314.950,417.21 L315.200,417.15 L315.450,417.14 L315.700,417.12 L315.950,417.10 L316.200,417.44 L316.450,417.38 L316.700,417.29 L316.950,417.13 L317.200,416.75 L317.450,416.33 L317.700,415.65 L317.880,415.14 L317.950,415.03 L318.000,415.00 L318.120,415.13 L318.200,415.31 L318.450,416.04 L318.700,416.55 L318.950,416.82 L319.200,416.91 L319.450,416.98 L319.700,417.02 L319.950,417.02 L320.200,417.13 L320.450,417.07 L320.700,416.96 L320.950,416.77 L321.200,416.50 L321.450,415.88 L321.700,414.87 L321.880,414.13 L321.950,413.97 L322.000,413.94 L322.120,414.13 L322.200,414.39 L322.450,415.48 L322.700,416.24 L322.950,416.67 L323.200,416.90 L323.450,417.05 L323.700,417.14 L323.950,417.21 L324.200,417.10 L324.450,417.13 L324.700,417.15 L324.950,417.17 L325.200,417.56 L325.450,417.58 L325.700,417.59 L325.950,417.60 L326.200,417.20 L326.450,417.21 L326.700,417.21 L326.950,417.21 L327.200,417.43 L327.450,417.44 L327.700,417.44 L327.950,417.44 L328.200,417.61 L328.450,417.61 L328.700,417.61 L328.950,417.61 L329.200,417.28 L329.450,417.28 L329.700,417.28 L329.950,417.28 L330.200,417.57 L330.450,417.57 L330.700,417.57 L330.950,417.57 L331.200,417.68 L331.450,417.68 L331.700,417.68 L331.950,417.68 L332.200,417.53 L332.450,417.53 L332.700,417.53 L332.950,417.53 L333.200,417.61 L333.450,417.61 L333.700,417.61 L333.950,417.61 L334.200,417.28 L334.450,417.28 L334.700,417.28 L334.950,417.28 L335.200,417.44 L335.450,417.44 L335.700,417.44 L335.950,417.44 L336.200,417.30 L336.450,417.30 L336.700,417.30 L336.950,417.30 L337.200,417.64 L337.450,417.64 L337.700,417.64 L337.950,417.64 L338.200,417.37 L338.450,417.37 L338.700,417.37 L338.950,417.37 L339.200,417.45 L339.450,417.45 L339.700,417.45 L339.950,417.45 L340.200,417.71 L340.450,417.71 L340.700,417.71 L340.950,417.71 L341.200,417.64 L341.450,417.64 L341.700,417.64 L341.950,417.64 L342.200,417.70 L342.450,417.70 L342.700,417.70 L342.950,417.70 L343.200,417.45 L343.450,417.45 L343.700,417.45 L343.950,417.45 L344.200,417.46 L344.450,417.46 L344.700,417.46 L344.950,417.46 L345.200,417.58 L345.450,417.58 L345.700,417.58 L345.950,417.58 L346.200,417.45 L346.450,417.45 L346.700,417.45 L346.950,417.45 L347.200,417.36 L347.450,417.36 L347.700,417.36 L347.950,417.36 L348.200,417.41 L348.450,417.41 L348.700,417.41 L348.950,417.40 L349.200,417.28 L349.450,417.28 L349.700,417.28 L349.950,417.27 L350.200,417.38 L350.450,417.37 L350.700,417.37 L350.950,417.36 L351.200,417.63 L351.450,417.62 L351.700,417.60 L351.950,417.57 L352.200,417.53 L352.450,417.48 L352.700,417.42 L352.950,417.32 L353.200,417.06 L353.450,416.83 L353.700,416.48 L353.950,416.11 L353.980,416.08 L354.100,416.03 L354.200,416.04 L354.220,416.06 L354.450,416.37 L354.700,416.73 L354.950,416.97 L355.200,417.06 L355.450,417.15 L355.700,417.21 L355.950,417.24 L356.200,417.16 L356.450,417.18 L356.700,417.19 L356.950,417.20 L357.200,417.29 L357.450,417.29 L357.700,417.30 L357.950,417.30 L358.200,417.53 L358.450,417.53 L358.700,417.53 L358.950,417.53 L359.200,417.57 L359.450,417.57 L359.700,417.57 L359.950,417.56 L360.200,417.33 L360.450,417.33 L360.700,417.32 L360.950,417.32 L361.200,417.50 L361.450,417.49 L361.700,417.48 L361.950,417.47 L362.200,417.45 L362.450,417.44 L362.700,417.42 L362.950,417.41 L363.200,417.35 L363.450,417.33 L363.700,417.29 L363.950,417.26 L364.200,417.20 L364.450,417.15 L364.700,417.07 L364.950,416.98 L365.200,416.89 L365.450,416.72 L365.700,416.49 L365.950,416.13 L366.200,415.52 L366.450,414.59 L366.700,412.84 L366.950,409.21 L367.200,402.18 L367.280,399.74 L367.400,397.90 L367.450,398.15 L367.520,399.42 L367.700,404.52 L367.950,408.99 L368.200,409.43 L368.380,408.29 L368.450,408.02 L368.500,408.04 L368.620,408.96 L368.700,409.98 L368.950,412.71 L369.200,413.71 L369.450,413.43 L369.480,413.37 L369.600,413.35 L369.700,413.69 L369.720,413.79 L369.950,415.08 L370.200,416.04 L370.450,416.51 L370.700,416.79 L370.950,416.96 L371.200,417.05 L371.450,417.13 L371.700,417.20 L371.950,417.24 L372.200,417.13 L372.450,417.16 L372.700,417.18 L372.950,417.20 L373.200,417.48 L373.450,417.50 L373.700,417.51 L373.950,417.52 L374.200,417.40 L374.450,417.41 L374.700,417.42 L374.950,417.42 L375.200,417.40 L375.450,417.40 L375.700,417.40 L375.950,417.40 L376.200,417.15 L376.450,417.15 L376.700,417.15 L376.950,417.15 L377.200,417.39 L377.450,417.39 L377.700,417.38 L377.950,417.38 L378.200,417.24 L378.450,417.24 L378.700,417.23 L378.950,417.22 L379.200,417.39 L379.450,417.37 L379.700,417.35 L379.950,417.33 L380.200,417.22 L380.450,417.18 L380.700,417.13 L380.950,417.06 L381.200,417.07 L381.450,416.91 L381.700,416.65 L381.950,416.21 L382.200,415.37 L382.450,413.69 L382.700,410.46 L382.780,409.35 L382.900,408.51 L382.950,408.62 L383.020,409.21 L383.200,411.56 L383.450,413.60 L383.700,413.85 L383.780,413.75 L383.900,413.78 L383.950,413.92 L384.020,414.22 L384.200,415.12 L384.450,416.06 L384.700,416.53 L384.950,416.78 L385.200,417.02 L385.450,417.12 L385.700,417.19 L385.950,417.23 L386.200,417.30 L386.450,417.33 L386.700,417.35 L386.950,417.36 L387.200,417.41 L387.450,417.41 L387.700,417.42 L387.950,417.42 L388.200,417.22 L388.450,417.22 L388.700,417.22 L388.950,417.21 L389.200,417.41 L389.450,417.40 L389.700,417.38 L389.950,417.37 L390.200,417.36 L390.450,417.34 L390.700,417.32 L390.950,417.29 L391.200,417.19 L391.450,417.15 L391.700,417.10 L391.950,417.05 L392.200,417.07 L392.450,416.97 L392.700,416.85 L392.950,416.70 L393.200,416.49 L393.450,416.22 L393.700,415.82 L393.950,415.22 L394.200,414.21 L394.450,412.53 L394.700,409.25 L394.950,402.37 L395.180,392.42 L395.200,391.70 L395.300,389.80 L395.420,391.83 L395.450,392.89 L395.700,401.86 L395.950,405.06 L396.200,402.85 L396.280,401.69 L396.400,401.04 L396.450,401.42 L396.520,402.57 L396.700,406.63 L396.950,410.19 L397.200,410.83 L397.380,410.15 L397.450,410.01 L397.500,410.08 L397.620,410.86 L397.700,411.70 L397.950,414.02 L398.200,415.30 L398.450,415.97 L398.700,416.37 L398.950,416.62 L399.200,416.67 L399.450,416.79 L399.700,416.88 L399.950,416.95 L400.200,417.08 L400.450,417.12 L400.700,417.16 L400.950,417.19 L401.200,417.22 L401.450,417.24 L401.700,417.26 L401.950,417.27 L402.200,417.29 L402.450,417.30 L402.700,417.30 L402.950,417.31 L403.200,417.09 L403.450,417.09 L403.700,417.09 L403.950,417.09 L404.200,417.33 L404.450,417.32 L404.700,417.32 L404.950,417.31 L405.200,417.22 L405.450,417.21 L405.700,417.20 L405.950,417.18 L406.200,417.20 L406.450,417.18 L406.700,417.15 L406.950,417.13 L407.200,417.01 L407.450,416.98 L407.700,416.94 L407.950,416.89 L408.200,416.90 L408.450,416.83 L408.700,416.75 L408.950,416.65 L409.200,416.57 L409.450,416.42 L409.700,416.24 L409.950,415.99 L410.200,415.65 L410.450,415.23 L410.700,414.64 L410.950,413.77 L411.200,412.42 L411.450,410.14 L411.700,405.88 L411.950,396.62 L412.200,373.39 L412.380,342.48 L412.450,332.86 L412.500,330.30 L412.620,340.86 L412.700,354.18 L412.950,381.69 L413.200,382.92 L413.380,371.86 L413.450,368.23 L413.500,367.68 L413.620,374.44 L413.700,381.93 L413.950,397.98 L414.200,401.58 L414.380,399.26 L414.450,398.45 L414.500,398.49 L414.620,401.09 L414.700,403.73 L414.950,409.44 L415.200,411.03 L415.380,410.55 L415.450,410.38 L415.500,410.45 L415.620,411.39 L415.700,412.30 L415.950,414.40 L416.200,415.30 L416.450,415.80 L416.700,416.11 L416.950,416.32 L417.200,416.60 L417.450,416.72 L417.700,416.82 L417.950,416.90 L418.200,416.95 L418.450,417.00 L418.700,417.05 L418.950,417.09 L419.200,416.91 L419.450,416.94 L419.700,416.96 L419.950,416.98 L420.200,417.15 L420.450,417.17 L420.700,417.18 L420.950,417.19 L421.200,417.11 L421.450,417.11 L421.700,417.12 L421.950,417.12 L422.200,417.06 L422.450,417.06 L422.700,417.06 L422.950,417.06 L423.200,417.08 L423.450,417.08 L423.700,417.07 L423.950,417.06 L424.200,417.11 L424.450,417.09 L424.700,417.06 L424.950,417.02 L425.200,416.93 L425.450,416.86 L425.700,416.76 L425.950,416.62 L426.200,416.40 L426.450,416.03 L426.700,415.34 L426.950,413.95 L427.200,411.03 L427.380,408.11 L427.450,407.36 L427.500,407.18 L427.620,408.02 L427.700,409.23 L427.950,412.68 L428.200,414.34 L428.450,414.86 L428.700,414.64 L428.950,413.54 L429.200,410.85 L429.380,408.08 L429.450,407.37 L429.500,407.19 L429.620,408.00 L429.700,409.15 L429.950,412.29 L430.200,413.31 L430.380,413.17 L430.450,413.15 L430.500,413.21 L430.620,413.70 L430.700,414.19 L430.950,415.51 L431.200,416.22 L431.450,416.60 L431.700,416.82 L431.950,416.95 L432.200,416.92 L432.450,416.98 L432.700,417.02 L432.950,417.05 L433.200,417.31 L433.450,417.32 L433.700,417.32 L433.950,417.31 L434.200,416.95 L434.450,416.91 L434.700,416.85 L434.950,416.74 L435.200,416.66 L435.450,416.32 L435.700,415.85 L435.880,415.55 L435.950,415.50 L436.000,415.48 L436.120,415.56 L436.200,415.65 L436.450,416.14 L436.700,416.54 L436.950,416.79 L437.200,416.99 L437.450,417.09 L437.700,417.16 L437.950,417.20 L438.200,417.12 L438.450,417.14 L438.700,417.15 L438.950,417.17 L439.200,417.48 L439.450,417.49 L439.700,417.50 L439.950,417.50 L440.200,417.31 L440.450,417.31 L440.700,417.31 L440.950,417.30 L441.200,417.15 L441.450,417.14 L441.700,417.14 L441.950,417.12 L442.200,417.35 L442.450,417.32 L442.700,417.28 L442.950,417.22 L443.200,416.95 L443.450,416.82 L443.700,416.62 L443.950,416.29 L444.200,415.90 L444.380,415.58 L444.450,415.52 L444.500,415.51 L444.620,415.58 L444.700,415.70 L444.950,416.21 L445.200,416.57 L445.450,416.84 L445.700,416.99 L445.950,417.09 L446.200,417.25 L446.450,417.30 L446.700,417.34 L446.950,417.36 L447.200,417.54 L447.450,417.56 L447.700,417.57 L447.950,417.58 L448.200,417.52 L448.450,417.52 L448.700,417.53 L448.950,417.53 L449.200,417.35 L449.450,417.35 L449.700,417.34 L449.950,417.34 L450.200,417.50 L450.450,417.49 L450.700,417.48 L450.950,417.46 L451.200,417.36 L451.450,417.33 L451.700,417.27 L451.950,417.20 L452.200,416.99 L452.450,416.82 L452.700,416.53 L452.950,416.11 L453.180,415.74 L453.200,415.68 L453.300,415.64 L453.420,415.70 L453.450,415.73 L453.700,416.14 L453.950,416.52 L454.200,416.90 L454.450,417.06 L454.700,417.15 L454.950,417.20 L455.200,417.21 L455.450,417.22 L455.700,417.21 L455.950,417.18 L456.200,417.25 L456.450,417.14 L456.700,416.95 L456.950,416.64 L457.200,416.18 L457.450,415.69 L457.480,415.65 L457.600,415.58 L457.700,415.63 L457.720,415.66 L457.950,416.09 L458.200,416.50 L458.450,416.83 L458.700,417.04 L458.950,417.16 L459.200,417.15 L459.450,417.20 L459.700,417.24 L459.950,417.27 L460.200,417.52 L460.450,417.54 L460.700,417.56 L460.950,417.57 L461.200,417.17 L461.450,417.18 L461.700,417.18 L461.950,417.19 L462.200,417.24 L462.450,417.24 L462.700,417.25 L462.950,417.25 L463.200,417.46 L463.450,417.47 L463.700,417.47 L463.950,417.47 L464.200,417.49 L464.450,417.50 L464.700,417.50 L464.950,417.50 L465.200,417.27 L465.450,417.27 L465.700,417.27 L465.950,417.27 L466.200,417.51 L466.450,417.51 L466.700,417.51 L466.950,417.51 L467.200,417.63 L467.450,417.63 L467.700,417.63 L467.950,417.63 L468.200,417.39 L468.450,417.39 L468.700,417.39 L468.950,417.39 L469.200,417.41 L469.450,417.41 L469.700,417.41 L469.950,417.41 L470.200,417.31 L470.450,417.31 L470.700,417.31 L470.950,417.31 L471.200,417.34 L471.450,417.34 L471.700,417.34 L471.950,417.34 L472.200,417.66 L472.450,417.66 L472.700,417.66 L472.950,417.66 L473.200,417.38 L473.450,417.38 L473.700,417.38 L473.950,417.37 L474.200,417.64 L474.450,417.64 L474.700,417.64 L474.950,417.64 L475.200,417.61 L475.450,417.61 L475.700,417.61 L475.950,417.60 L476.200,417.46 L476.450,417.45 L476.700,417.45 L476.950,417.44 L477.200,417.29 L477.450,417.28 L477.700,417.28 L477.950,417.27 L478.200,417.59 L478.450,417.58 L478.700,417.57 L478.950,417.56 L479.200,417.34 L479.450,417.33 L479.700,417.32 L479.950,417.30 L480.200,417.25 L480.450,417.23 L480.700,417.21 L480.950,417.18 L481.200,417.10 L481.450,417.05 L481.700,416.99 L481.950,416.90 L482.200,416.97 L482.450,416.76 L482.700,416.43 L482.950,415.86 L483.200,414.86 L483.450,413.66 L483.480,413.55 L483.600,413.30 L483.700,413.38 L483.720,413.43 L483.950,414.24 L484.200,414.87 L484.450,414.98 L484.700,414.52 L484.950,413.25 L485.200,410.31 L485.450,404.94 L485.480,404.32 L485.600,403.00 L485.700,403.76 L485.720,404.08 L485.950,408.56 L486.200,410.84 L486.450,410.41 L486.480,410.30 L486.600,410.22 L486.700,410.77 L486.720,410.93 L486.950,413.03 L487.200,414.22 L487.450,414.22 L487.480,414.20 L487.600,414.24 L487.700,414.51 L487.720,414.59 L487.950,415.58 L488.200,416.23 L488.450,416.58 L488.700,416.78 L488.950,416.91 L489.200,416.95 L489.450,417.01 L489.700,417.05 L489.950,417.08 L490.200,417.29 L490.450,417.32 L490.700,417.33 L490.950,417.35 L491.200,417.38 L491.450,417.39 L491.700,417.39 L491.950,417.40 L492.200,417.07 L492.450,417.07 L492.700,417.07 L492.950,417.07 L493.200,417.28 L493.450,417.27 L493.700,417.26 L493.950,417.26 L494.200,417.14 L494.450,417.13 L494.700,417.12 L494.950,417.10 L495.200,417.33 L495.450,417.30 L495.700,417.26 L495.950,417.21 L496.200,417.10 L496.450,417.02 L496.700,416.91 L496.950,416.76 L497.200,416.40 L497.450,416.05 L497.700,415.42 L497.950,414.17 L498.200,411.55 L498.380,408.93 L498.450,408.26 L498.500,408.09 L498.620,408.82 L498.700,409.87 L498.950,412.86 L499.200,414.18 L499.450,414.44 L499.700,413.87 L499.950,412.09 L500.200,408.38 L500.280,407.07 L500.400,406.12 L500.450,406.30 L500.520,407.06 L500.700,410.10 L500.950,413.08 L501.200,414.28 L501.450,414.68 L501.700,414.53 L501.950,413.80 L502.200,412.06 L502.450,408.11 L502.680,402.32 L502.700,401.90 L502.800,400.80 L502.920,402.03 L502.950,402.66 L503.200,407.98 L503.450,409.83 L503.680,409.08 L503.700,409.01 L503.800,409.01 L503.920,409.93 L503.950,410.27 L504.200,413.17 L504.450,414.82 L504.700,415.65 L504.950,416.11 L505.200,416.37 L505.450,416.55 L505.700,416.67 L505.950,416.75 L506.200,416.85 L506.450,416.89 L506.700,416.91 L506.950,416.93 L507.200,416.75 L507.450,416.74 L507.700,416.73 L507.950,416.72 L508.200,416.89 L508.450,416.86 L508.700,416.82 L508.950,416.77 L509.200,416.59 L509.450,416.52 L509.700,416.43 L509.950,416.33 L510.200,416.26 L510.450,416.10 L510.700,415.90 L510.950,415.65 L511.200,415.28 L511.450,414.84 L511.700,414.23 L511.950,413.34 L512.200,411.98 L512.450,409.76 L512.700,405.76 L512.950,397.56 L513.200,377.78 L513.450,330.88 L513.480,324.26 L513.600,309.40 L513.700,319.65 L513.720,323.59 L513.950,368.87 L514.200,390.58 L514.450,396.31 L514.700,392.32 L514.950,373.25 L515.080,356.17 L515.200,347.64 L515.320,357.02 L515.450,375.08 L515.700,396.54 L515.950,404.45 L516.200,406.67 L516.450,404.46 L516.680,397.23 L516.700,396.58 L516.800,395.01 L516.920,397.95 L516.950,399.20 L517.200,407.98 L517.450,411.67 L517.700,412.99 L517.950,412.93 L518.200,411.00 L518.280,410.06 L518.400,409.36 L518.450,409.59 L518.520,410.37 L518.700,412.82 L518.950,414.71 L519.200,415.54 L519.450,415.95 L519.700,416.19 L519.950,416.35 L520.200,416.52 L520.450,416.60 L520.700,416.67 L520.950,416.72 L521.200,416.90 L521.450,416.93 L521.700,416.96 L521.950,416.98 L522.200,416.98 L522.450,416.99 L522.700,417.00 L522.950,417.00 L523.200,416.89 L523.450,416.88 L523.700,416.87 L523.950,416.85 L524.200,416.67 L524.450,416.64 L524.700,416.60 L524.950,416.56 L525.200,416.71 L525.450,416.64 L525.700,416.54 L525.950,416.43 L526.200,416.20 L526.450,416.02 L526.700,415.77 L526.950,415.42 L527.200,414.93 L527.450,414.15 L527.700,412.86 L527.950,410.63 L528.200,407.05 L528.380,404.34 L528.450,403.70 L528.500,403.51 L528.620,403.93 L528.700,404.75 L528.950,407.75 L529.200,409.31 L529.450,409.21 L529.700,407.41 L529.950,402.88 L530.200,391.98 L530.450,363.89 L530.580,340.40 L530.700,328.10 L530.820,338.92 L530.950,360.60 L531.200,383.35 L531.450,382.03 L531.680,362.83 L531.700,361.04 L531.800,356.67 L531.920,364.79 L531.950,368.24 L532.200,391.96 L532.450,400.04 L532.700,398.08 L532.780,396.08 L532.900,394.76 L532.950,395.56 L533.020,397.84 L533.200,404.71 L533.450,409.69 L533.700,410.92 L533.880,410.33 L533.950,410.14 L534.000,410.20 L534.120,411.13 L534.200,412.08 L534.450,414.20 L534.700,415.19 L534.950,415.72 L535.200,415.92 L535.450,416.14 L535.700,416.30 L535.950,416.42 L536.200,416.54 L536.450,416.62 L536.700,416.68 L536.950,416.73 L537.200,416.94 L537.450,416.98 L537.700,417.01 L537.950,417.04 L538.200,416.82 L538.450,416.84 L538.700,416.85 L538.950,416.86 L539.200,417.13 L539.450,417.13 L539.700,417.14 L539.950,417.14 L540.200,417.09 L540.450,417.09 L540.700,417.08 L540.950,417.07 L541.200,416.97 L541.450,416.95 L541.700,416.93 L541.950,416.90 L542.200,416.82 L542.450,416.78 L542.700,416.73 L542.950,416.67 L543.200,416.73 L543.450,416.62 L543.700,416.48 L543.950,416.29 L544.200,416.05 L544.450,415.65 L544.700,414.99 L544.950,413.82 L545.200,411.43 L545.450,407.40 L545.480,406.93 L545.600,405.88 L545.700,406.32 L545.720,406.52 L545.950,409.49 L546.200,411.05 L546.450,410.78 L546.700,408.88 L546.950,404.46 L547.200,394.76 L547.450,377.36 L547.480,375.36 L547.600,370.98 L547.700,373.23 L547.720,374.22 L547.950,387.95 L548.200,394.09 L548.450,390.63 L548.480,390.05 L548.600,389.27 L548.700,391.32 L548.720,391.98 L548.950,400.46 L549.200,405.11 L549.450,405.22 L549.480,405.14 L549.600,405.29 L549.680,406.08 L549.700,406.35 L549.720,406.65 L549.800,407.98 L549.920,409.96 L549.950,410.39 L550.200,412.97 L550.450,414.32 L550.700,415.07 L550.950,415.53 L551.200,415.92 L551.450,416.13 L551.700,416.27 L551.950,416.36 L552.200,416.46 L552.450,416.45 L552.700,416.38 L552.950,416.21 L553.200,415.74 L553.450,415.13 L553.700,414.01 L553.950,412.55 L553.980,412.41 L554.100,412.16 L554.200,412.37 L554.220,412.45 L554.450,413.81 L554.700,415.11 L554.950,415.86 L555.200,416.43 L555.450,416.70 L555.700,416.88 L555.950,417.00 L556.200,417.08 L556.450,417.14 L556.700,417.19 L556.950,417.22 L557.200,417.20 L557.450,417.23 L557.700,417.24 L557.950,417.25 L558.200,417.02 L558.450,417.02 L558.700,417.02 L558.950,417.02 L559.200,417.28 L559.450,417.27 L559.700,417.26 L559.950,417.23 L560.200,417.28 L560.450,417.23 L560.700,417.14 L560.950,417.02 L561.200,416.84 L561.450,416.53 L561.700,416.01 L561.950,415.10 L562.200,413.59 L562.380,412.50 L562.450,412.27 L562.500,412.22 L562.620,412.50 L562.700,412.93 L562.950,414.55 L563.200,415.56 L563.450,416.17 L563.700,416.51 L563.950,416.71 L564.200,417.10 L564.450,417.20 L564.700,417.27 L564.950,417.32 L565.200,417.12 L565.450,417.14 L565.700,417.16 L565.950,417.18 L566.200,417.36 L566.450,417.38 L566.700,417.38 L566.950,417.39 L567.200,417.52 L567.450,417.53 L567.700,417.53 L567.950,417.52 L568.200,417.42 L568.450,417.41 L568.700,417.40 L568.950,417.39 L569.200,417.13 L569.450,417.11 L569.700,417.08 L569.950,417.04 L570.200,417.02 L570.450,416.91 L570.700,416.73 L570.950,416.40 L571.200,415.93 L571.450,414.98 L571.580,414.52 L571.700,414.35 L571.820,414.52 L571.950,414.98 L572.200,415.78 L572.450,416.36 L572.700,416.67 L572.950,416.85 L573.200,417.11 L573.450,417.18 L573.700,417.22 L573.950,417.24 L574.200,417.16 L574.450,417.15 L574.700,417.12 L574.950,417.05 L575.200,416.86 L575.450,416.68 L575.700,416.33 L575.950,415.72 L576.180,415.08 L576.200,415.11 L576.300,415.02 L576.420,415.15 L576.450,415.22 L576.700,415.97 L576.950,416.56 L577.200,416.72 L577.450,416.89 L577.700,416.99 L577.950,417.05 L578.200,417.12 L578.450,417.15 L578.700,417.17 L578.950,417.19 L579.200,417.32 L579.450,417.33 L579.700,417.34 L579.950,417.34 L580.200,417.21 L580.450,417.21 L580.700,417.22 L580.950,417.22 L581.200,417.22 L581.450,417.22 L581.700,417.22 L581.950,417.22 L582.200,417.46 L582.450,417.47 L582.700,417.47 L582.950,417.47 L583.200,417.55 L583.450,417.55 L583.700,417.55 L583.950,417.55 L584.200,417.61 L584.450,417.61 L584.700,417.61 L584.950,417.61 L585.200,417.26 L585.450,417.26 L585.700,417.26 L585.950,417.26 L586.200,417.40 L586.450,417.40 L586.700,417.40 L586.950,417.39 L587.200,417.34 L587.450,417.33 L587.700,417.33 L587.950,417.33 L588.200,417.46 L588.450,417.45 L588.700,417.45 L588.950,417.44 L589.200,417.39 L589.450,417.38 L589.700,417.37 L589.950,417.36 L590.200,417.55 L590.450,417.53 L590.700,417.52 L590.950,417.50 L591.200,417.24 L591.450,417.22 L591.700,417.19 L591.950,417.15 L592.200,416.98 L592.450,416.92 L592.700,416.85 L592.950,416.74 L593.200,416.76 L593.450,416.50 L593.700,416.08 L593.950,415.37 L594.200,413.98 L594.450,411.24 L594.700,405.92 L594.780,404.08 L594.900,402.69 L594.950,402.88 L595.020,403.84 L595.200,407.70 L595.450,411.04 L595.700,411.41 L595.780,411.24 L595.900,411.26 L595.950,411.46 L596.020,411.93 L596.200,413.42 L596.450,414.71 L596.700,414.98 L596.780,414.96 L596.900,415.03 L596.950,415.12 L597.020,415.31 L597.200,415.97 L597.450,416.57 L597.700,416.90 L597.950,417.09 L598.200,417.09 L598.450,417.16 L598.700,417.22 L598.950,417.26 L599.200,417.32 L599.450,417.35 L599.700,417.37 L599.950,417.39 L600.200,417.25 L600.450,417.26 L600.700,417.27 L600.950,417.28 L601.200,417.41 L601.450,417.42 L601.700,417.42 L601.950,417.43 L602.200,417.30 L602.450,417.30 L602.700,417.30 L602.950,417.30 L603.200,417.53 L603.450,417.54 L603.700,417.54 L603.950,417.54 L604.200,417.43 L604.450,417.43 L604.700,417.42 L604.950,417.42 L605.200,417.24 L605.450,417.24 L605.700,417.23 L605.950,417.22 L606.200,417.26 L606.450,417.24 L606.700,417.23 L606.950,417.20 L607.200,417.22 L607.450,417.17 L607.700,417.09 L607.950,416.97 L608.200,416.90 L608.450,416.62 L608.700,416.28 L608.880,416.09 L608.950,416.05 L609.000,416.05 L609.120,416.09 L609.200,416.04 L609.450,416.35 L609.700,416.65 L609.950,416.85 L610.200,417.18 L610.450,417.28 L610.700,417.35 L610.950,417.40 L611.200,417.41 L611.450,417.44 L611.700,417.46 L611.950,417.47 L612.200,417.22 L612.450,417.23 L612.700,417.24 L612.950,417.24 L613.200,417.52 L613.450,417.52 L613.700,417.53 L613.950,417.53 L614.200,417.26 L614.450,417.26 L614.700,417.26 L614.950,417.27 L615.200,417.28 L615.450,417.28 L615.700,417.29 L615.950,417.29 L616.200,417.52 L616.450,417.52 L616.700,417.52 L616.950,417.52 L617.200,417.35 L617.450,417.35 L617.700,417.35 L617.950,417.35 L618.200,417.66 L618.450,417.66 L618.700,417.66 L618.950,417.66 L619.200,417.47 L619.450,417.47 L619.700,417.47 L619.950,417.47 L620.200,417.39 L620.450,417.39 L620.700,417.39 L620.950,417.40 L621.200,417.63 L621.450,417.63 L621.700,417.63 L621.950,417.63 L622.200,417.25 L622.450,417.25 L622.700,417.25 L622.950,417.25 L623.200,417.60 L623.450,417.60 L623.700,417.60 L623.950,417.60 L624.200,417.27 L624.450,417.27 L624.700,417.27 L624.950,417.27 L625.200,417.31 L625.450,417.31 L625.700,417.31 L625.950,417.31 L626.200,417.71 L626.450,417.71 L626.700,417.71 L626.950,417.71 L627.200,417.58 L627.450,417.58 L627.700,417.58 L627.950,417.58 L628.200,417.35 L628.450,417.35 L628.700,417.35 L628.950,417.35 L629.200,417.30 L629.450,417.30" fill="none" stroke="#3a3a3a" stroke-width="0.85" stroke-linejoin="round"/><line x1="222.4" y1="229.5" x2="640.9" y2="229.5" stroke="#6a6a6a" stroke-width="1"/><path d="M225.30,229.40V234.80M235.24,229.40V232.50M245.18,229.40V232.50M255.11,229.40V232.50M265.05,229.40V232.50M274.99,229.40V234.80M284.93,229.40V232.50M294.86,229.40V232.50M304.80,229.40V232.50M314.74,229.40V232.50M324.68,229.40V234.80M334.61,229.40V232.50M344.55,229.40V232.50M354.49,229.40V232.50M364.43,229.40V232.50M374.36,229.40V234.80M384.30,229.40V232.50M394.24,229.40V232.50M404.18,229.40V232.50M414.11,229.40V232.50M424.05,229.40V234.80M433.99,229.40V232.50M443.93,229.40V232.50M453.86,229.40V232.50M463.80,229.40V232.50M473.74,229.40V234.80M483.68,229.40V232.50M493.61,229.40V232.50M503.55,229.40V232.50M513.49,229.40V232.50M523.42,229.40V234.80M533.36,229.40V232.50M543.30,229.40V232.50M553.24,229.40V232.50M563.17,229.40V232.50M573.11,229.40V234.80M583.05,229.40V232.50M592.99,229.40V232.50M602.92,229.40V232.50M612.86,229.40V232.50M622.80,229.40V234.80M632.74,229.40V232.50" stroke="#222" stroke-width="1.2" fill="none"/><line x1="216.2" y1="421.9" x2="630.6" y2="421.9" stroke="#999" stroke-width="1.5"/><path d="M217.79,422.40V429.30M228.50,422.40V432.90M239.21,422.40V429.30M249.91,422.40V429.30M260.62,422.40V429.30M271.33,422.40V429.30M282.03,422.40V432.90M292.74,422.40V429.30M303.45,422.40V429.30M314.16,422.40V429.30M324.86,422.40V429.30M335.57,422.40V432.90M346.28,422.40V429.30M356.98,422.40V429.30M367.69,422.40V429.30M378.40,422.40V429.30M389.11,422.40V432.90M399.81,422.40V429.30M410.52,422.40V429.30M421.23,422.40V429.30M431.93,422.40V429.30M442.64,422.40V432.90M453.35,422.40V429.30M464.05,422.40V429.30M474.76,422.40V429.30M485.47,422.40V429.30M496.18,422.40V432.90M506.88,422.40V429.30M517.59,422.40V429.30M528.30,422.40V429.30M539.00,422.40V429.30M549.71,422.40V432.90M560.42,422.40V429.30M571.12,422.40V429.30M581.83,422.40V429.30M592.54,422.40V429.30M603.25,422.40V432.90M613.95,422.40V429.30M624.66,422.40V429.30" stroke="#222" stroke-width="1.3" fill="none"/><g font-family="Liberation Sans, sans-serif" fill="#222" text-anchor="middle"><text x="224.7" y="246" font-size="10.5">1100</text><text x="325.7" y="248.5" font-size="10.5">1200</text><text x="425.3" y="248.5" font-size="10.5">1300</text><text x="525.6" y="248.5" font-size="10.5">1400</text><text x="622.1" y="248.5" font-size="10.5">1500</text><text x="227.9" y="443.8" font-size="10.7">900</text><text x="337.2" y="443.8" font-size="10.7">1000</text><text x="443.5" y="443.8" font-size="10.7">1100</text><text x="548.5" y="443.8" font-size="10.7">1200</text><text x="636.1" y="446.5" font-size="12" font-style="italic">m/z</text></g><g font-family="Liberation Sans, sans-serif" fill="#111" text-anchor="middle"><text x="311.35" y="75.8" font-size="8.0" font-weight="bold" fill="#000">CL</text><text transform="translate(312.4,86.5) scale(0.93,1)" font-size="8.2" fill="#2a2a2a" stroke="#2a2a2a" stroke-width="0.12">1183.5</text><text x="322.9" y="176.8" font-size="8.0" font-weight="bold" fill="#000">CL</text><text transform="translate(327.65,187.7) scale(0.93,1)" font-size="8.2" fill="#2a2a2a" stroke="#2a2a2a" stroke-width="0.12">1199.5</text><text x="418.1" y="131.5" font-size="8.0" font-weight="bold" fill="#000">CL</text><text transform="translate(419.5,145.7) scale(0.93,1)" font-size="8.2" fill="#2a2a2a" stroke="#2a2a2a" stroke-width="0.12">1293.6</text><text x="432.7" y="184.6" font-size="8.0" font-weight="bold" fill="#000">CL</text><text transform="translate(436.55,194.8) scale(0.93,1)" font-size="8.2" fill="#2a2a2a" stroke="#2a2a2a" stroke-width="0.12">1309.5</text><text x="487.2" y="200.7" font-size="8.0" font-weight="bold" fill="#000">CL</text><text transform="translate(490.6,211.7) scale(0.93,1)" font-size="8.2" fill="#2a2a2a" stroke="#2a2a2a" stroke-width="0.12">1375.7</text><text x="509.5" y="183.6" font-size="8.0" font-weight="bold" fill="#000">CL</text><text transform="translate(510.35,193.8) scale(0.93,1)" font-size="8.2" fill="#2a2a2a" stroke="#2a2a2a" stroke-width="0.12">1389.8</text><text x="525.25" y="75" font-size="8.0" font-weight="bold" fill="#000">CL</text><text transform="translate(524.85,88.1) scale(0.93,1)" font-size="8.2" fill="#2a2a2a" stroke="#2a2a2a" stroke-width="0.12">1403.8</text><text x="546.8" y="153.9" font-size="8.0" font-weight="bold" fill="#000">CL</text><text transform="translate(545.6,166.7) scale(0.93,1)" font-size="8.2" fill="#2a2a2a" stroke="#2a2a2a" stroke-width="0.12">1417.9</text><text x="561.1" y="179" font-size="8.0" font-weight="bold" fill="#000">CL</text><text transform="translate(560.05,191.9) scale(0.93,1)" font-size="8.2" fill="#2a2a2a" stroke="#2a2a2a" stroke-width="0.12">1429.8</text><text x="276.25" y="293.8" font-size="8.15" font-weight="bold" fill="#000">MLCL</text><text transform="translate(277.05,305.8) scale(0.95,1)" font-size="8.3" fill="#2a2a2a" stroke="#2a2a2a" stroke-width="0.12">945.3</text><text x="360.85" y="378.8" font-size="8.15" font-weight="bold" fill="#000">MLCL</text><text transform="translate(361.35,391.5) scale(0.95,1)" font-size="8.3" fill="#2a2a2a" stroke="#2a2a2a" stroke-width="0.12">1029.5</text><text x="389.7" y="372.7" font-size="8.15" font-weight="bold" fill="#000">MLCL</text><text transform="translate(391.65,384) scale(0.95,1)" font-size="8.3" fill="#2a2a2a" stroke="#2a2a2a" stroke-width="0.12">1055.5</text><text x="406.85" y="312" font-size="8.15" font-weight="bold" fill="#000">MLCL</text><text transform="translate(407.25,323.4) scale(0.95,1)" font-size="8.3" fill="#2a2a2a" stroke="#2a2a2a" stroke-width="0.12">1071.5</text><text x="481.05" y="387.8" font-size="8.15" font-weight="bold" fill="#000">MLCL</text><text transform="translate(480.25,398.1) scale(0.95,1)" font-size="8.3" fill="#2a2a2a" stroke="#2a2a2a" stroke-width="0.12">1139.6</text><text x="514.6" y="295.1" font-size="8.15" font-weight="bold" fill="#000">MLCL</text><text transform="translate(514.95,306.1) scale(0.95,1)" font-size="8.3" fill="#2a2a2a" stroke="#2a2a2a" stroke-width="0.12">1165.6</text></g><path d="M323.2,192.2V200.6M513.2,200.2V208.6M540.8,172.9V187.4" stroke="#111" stroke-width="1.2"/><path d="M531.10,312.20V320.60M526.80,314.20L535.40,318.60M526.80,318.60L535.40,314.20" stroke="#111" stroke-width="1.45" stroke-linecap="round"/><path d="M505.90,383.40V391.80M501.60,385.40L510.20,389.80M501.60,389.80L510.20,385.40" stroke="#111" stroke-width="1.45" stroke-linecap="round"/><line x1="648.5" y1="406.2" x2="648.5" y2="322" stroke="#000" stroke-width="1.7"/><path d="M648.6,313.8 L653,329 L648.6,325.5 L644.2,329 Z" fill="#000"/><text transform="translate(670.3,364) rotate(-90)" font-family="Liberation Sans, sans-serif" font-size="11.7" fill="#222" text-anchor="middle">Relative intensity (%)</text></svg></body></html>
